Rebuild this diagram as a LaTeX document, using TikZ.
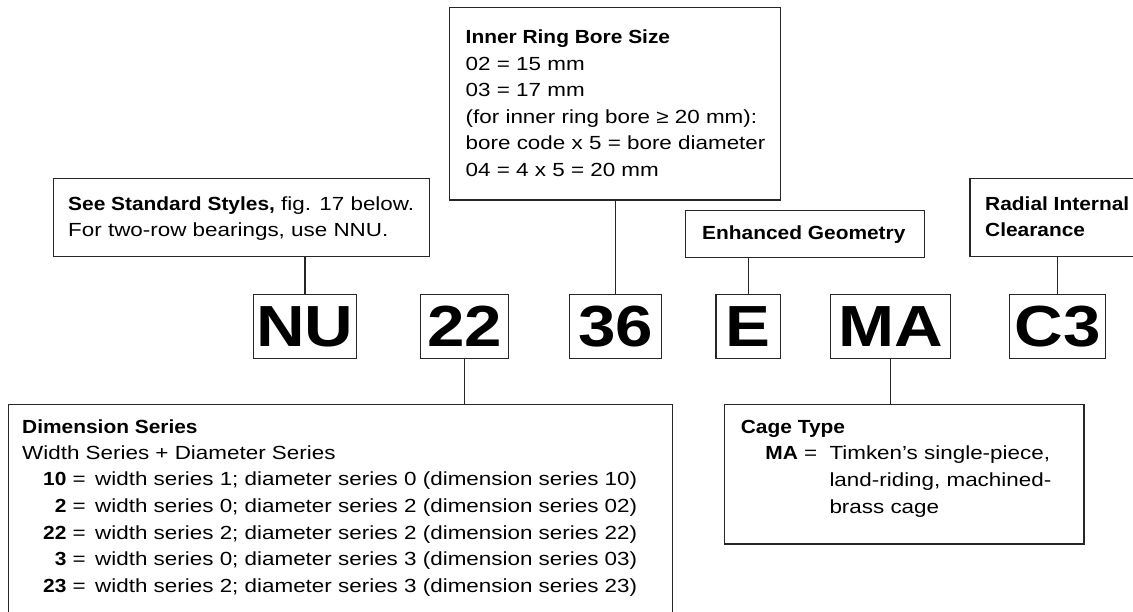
\documentclass[tikz,border=0pt]{standalone}
\usepackage{fontspec}
\setmainfont{Liberation Sans}[FakeStretch=1.18, BoldFeatures={FakeStretch=1.1}]
\newfontfamily\codefont{Liberation Sans}[FakeStretch=1.16]
\begin{document}
\begin{tikzpicture}[x=1pt,y=-1pt,
  box/.style={draw=black!85, line width=1.1pt, inner sep=0pt, rectangle},
  code/.style={box, font=\codefont\fontsize{58}{58}\selectfont\bfseries, minimum height=64.4pt, text depth=0pt},
  txt/.style={inner sep=0pt, font=\fontsize{19}{26.6}\selectfont},
  ttl/.style={inner sep=0pt, font=\fontsize{19}{26.6}\selectfont\bfseries},
  conn/.style={draw=black!85, line width=1.1pt}]
\useasboundingbox (0,0) rectangle (1133,611);
\clip (0,0) rectangle (1133,611);
% upper boxes
\node[box, minimum width=375.7pt, minimum height=78.4pt] (std) at (241.45,217.5) {};
\node[box, minimum width=331pt, minimum height=192.7pt] (inner) at (615,103.65) {};
\node[box, minimum width=238.6pt, minimum height=47pt] (enh) at (805.2,234.2) {};
\node[box, minimum width=170pt, minimum height=78.4pt] (rad) at (1055,217.5) {};
% code boxes
\node[code, minimum width=102.8pt] (nu) at (305,326.5) {NU};
\node[code, minimum width=88.2pt] (c22) at (464.5,326.5) {22};
\node[code, minimum width=92.7pt] (c36) at (615.45,326.5) {36};
\node[code, minimum width=64.5pt] (ce) at (748.25,326.5) {E};
\node[code, minimum width=120pt] (ma) at (890.5,326.5) {MA};
\node[code, minimum width=96pt] (c3) at (1057.5,326.5) {C3};
% lower boxes
\node[box, minimum width=663.8pt, minimum height=215.7pt] (dim) at (340.4,512.15) {};
\node[box, minimum width=359.7pt, minimum height=139.7pt] (cage) at (904.15,474.15) {};
% connectors
\draw[conn] (std.south -| nu.north) -- (nu.north);
\draw[conn] (inner.south -| c36.north) -- (c36.north);
\draw[conn] (enh.south -| ce.north) -- (ce.north);
\draw[conn] (rad.south -| c3.north) -- (c3.north);
\draw[conn] (c22.south) -- (c22.south |- dim.north);
\draw[conn] (ma.south) -- (ma.south |- cage.north);
% standard styles text
\node[txt, anchor=base west] (s1) at (68,210) {\textbf{See Standard Styles,} fig. 17 below.};
\node[txt, anchor=base west] (s2) at (68,236.6) {For two-row bearings, use NNU.};
% inner ring text
\node[ttl, anchor=base west] (i0) at (465.5,43) {Inner Ring Bore Size};
\node[txt, anchor=base west] (i1) at (465.5,70) {02 = 15 mm};
\node[txt, anchor=base west] (i2) at (465.5,96.6) {03 = 17 mm};
\node[txt, anchor=base west] (i3) at (465.5,123.2) {(for inner ring bore ≥ 20 mm):};
\node[txt, anchor=base west] (i4) at (465.5,149.8) {bore code x 5 = bore diameter};
\node[txt, anchor=base west] (i5) at (465.5,176.4) {04 = 4 x 5 = 20 mm};
% enhanced and radial
\node[ttl, anchor=base west] (e0) at (702,239) {Enhanced Geometry};
\node[ttl, anchor=base west] (r0) at (985,210) {Radial Internal};
\node[ttl, anchor=base west] (r1) at (985,236.6) {Clearance};
% dimension series text
\node[ttl, anchor=base west] (d0) at (22,433) {Dimension Series};
\node[txt, anchor=base west] (d1) at (22,459) {Width Series + Diameter Series};
\node[txt, anchor=base east] (n1) at (86,485.6) {\textbf{10} =};
\node[txt, anchor=base west] (t1) at (95,485.6) {width series 1; diameter series 0 (dimension series 10)};
\node[txt, anchor=base east] (n2) at (86,512.3) {\textbf{2} =};
\node[txt, anchor=base west] (t2) at (95,512.3) {width series 0; diameter series 2 (dimension series 02)};
\node[txt, anchor=base east] (n3) at (86,539) {\textbf{22} =};
\node[txt, anchor=base west] (t3) at (95,539) {width series 2; diameter series 2 (dimension series 22)};
\node[txt, anchor=base east] (n4) at (86,565.7) {\textbf{3} =};
\node[txt, anchor=base west] (t4) at (95,565.7) {width series 0; diameter series 3 (dimension series 03)};
\node[txt, anchor=base east] (n5) at (86,592.4) {\textbf{23} =};
\node[txt, anchor=base west] (t5) at (95,592.4) {width series 2; diameter series 3 (dimension series 23)};
% cage type text
\node[ttl, anchor=base west] (g0) at (740.7,433) {Cage Type};
\node[txt, anchor=base east] (gm) at (817.5,459.7) {\textbf{MA} =};
\node[txt, anchor=base west] (g1) at (829.3,459.7) {Timken’s single-piece,};
\node[txt, anchor=base west] (g2) at (829.3,486.4) {land-riding, machined-};
\node[txt, anchor=base west] (g3) at (829.3,513.1) {brass cage};
\end{tikzpicture}
\end{document}
